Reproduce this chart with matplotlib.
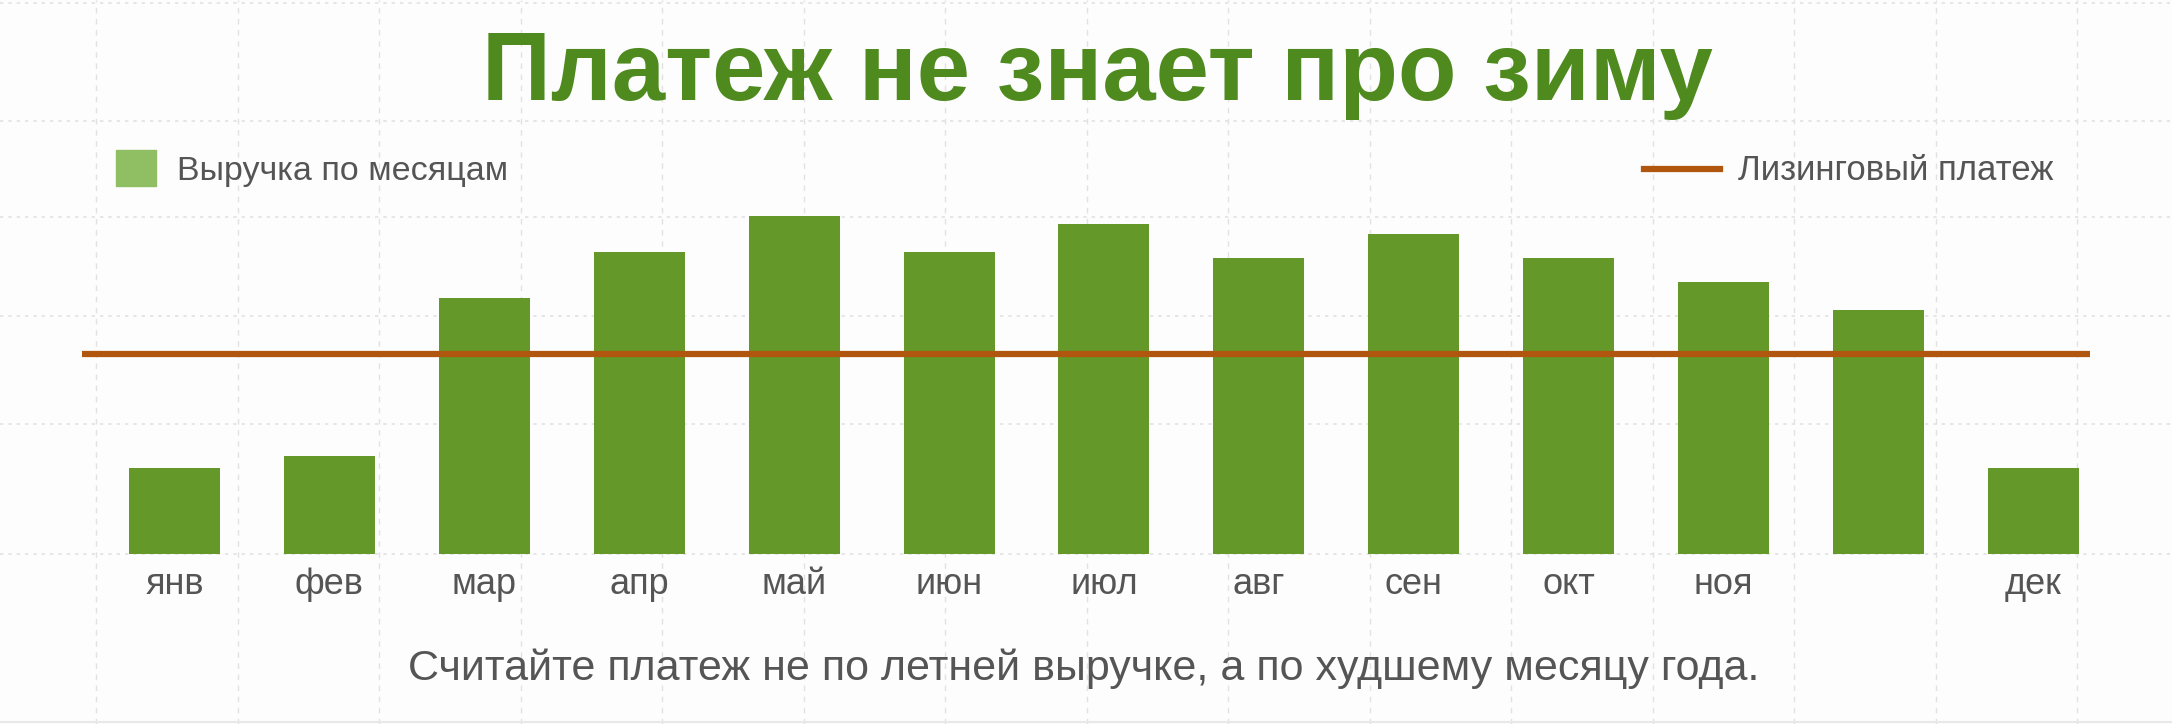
import numpy as np
import matplotlib
matplotlib.use("Agg")
import matplotlib.pyplot as plt
from matplotlib import font_manager
from matplotlib.patches import Rectangle
from matplotlib.lines import Line2D
import matplotlib.transforms as mtransforms

# data (thousand rub.)
months = ["янв", "фев", "мар", "апр", "май", "июн", "июл", "авг", "сен", "окт", "ноя", "", "дек"]
revenue = [43, 49, 128, 151, 169, 151, 165, 148, 160, 148, 136, 122, 43]
payment = 100

title = "Платеж не знает про зиму"
caption = "Считайте платеж не по летней выручке, а по худшему месяцу года."
revenue_label = "Выручка по месяцам"
payment_label = "Лизинговый платеж"

bar_color = "#64992a"
legend_color = "#8fbf62"
line_color = "#b0560f"
title_color = "#4f8a1e"
text_color = "#555555"

names = {f.name for f in font_manager.fontManager.ttflist}
narrow = "Liberation Sans Narrow" if "Liberation Sans Narrow" in names else "Liberation Sans"
plt.rcParams["font.family"] = [narrow, "DejaVu Sans"]

W, H = 2172, 724
fig = plt.figure(figsize=(W / 100, H / 100), dpi=100, facecolor="#fdfdfd")

# background grid in pixel coords
bg = fig.add_axes([0, 0, 1, 1], zorder=0)
bg.set_xlim(0, W)
bg.set_ylim(H, 0)
bg.axis("off")
for gx in np.arange(96, W, 141.5):
    bg.axvline(gx, color="#e2e2e2", lw=1, ls=(0, (4, 4)))
for gy in [3, 121, 217, 316, 424, 554]:
    bg.axhline(gy, color="#e2e2e2", lw=1.2, ls=(0, (2, 3)))
bg.axhline(722, color="#e8e8e8", lw=1.5)

# main chart axes
x0, x1 = 82, 2090
base, top = 553.7, 120
ax = fig.add_axes([x0 / W, 1 - base / H, (x1 - x0) / W, (base - top) / H], zorder=1)
ax.patch.set_alpha(0)
x = np.arange(len(months))
step = (2033.3 - 174.5) / 12
ax.set_xlim(-(174.5 - x0) / step, (x1 - 174.5) / step)
ax.set_ylim(0, (base - top) / 2)
ax.bar(x, revenue, width=91 / step, color=bar_color, zorder=2)
ax.axhline(payment, color=line_color, lw=4.5, zorder=3)
ax.axis("off")

# month labels
tr = mtransforms.blended_transform_factory(ax.transData, fig.transFigure)
for xi, m in zip(x, months):
    ax.text(xi, 1 - 594 / H, m, transform=tr, ha="center", va="baseline",
            fontsize=26, color=text_color)

# title and caption
fig.text(1097 / W, 1 - 100 / H, title, ha="center", va="baseline",
         fontsize=69, fontweight="bold", color=title_color)
fig.text(1084 / W, 1 - 680 / H, caption, ha="center", va="baseline",
         fontsize=31, color=text_color)

# legends
bg.add_patch(Rectangle((116, 150), 40, 36, color=legend_color))
bg.text(177, 180, revenue_label, ha="left", va="baseline", fontsize=24.5, color=text_color)
bg.add_line(Line2D([1644, 1720], [169, 169], color=line_color, lw=4.5))
bg.text(1738, 180, payment_label, ha="left", va="baseline", fontsize=25, color=text_color)

fig.savefig("out.png", dpi=100, facecolor=fig.get_facecolor())
